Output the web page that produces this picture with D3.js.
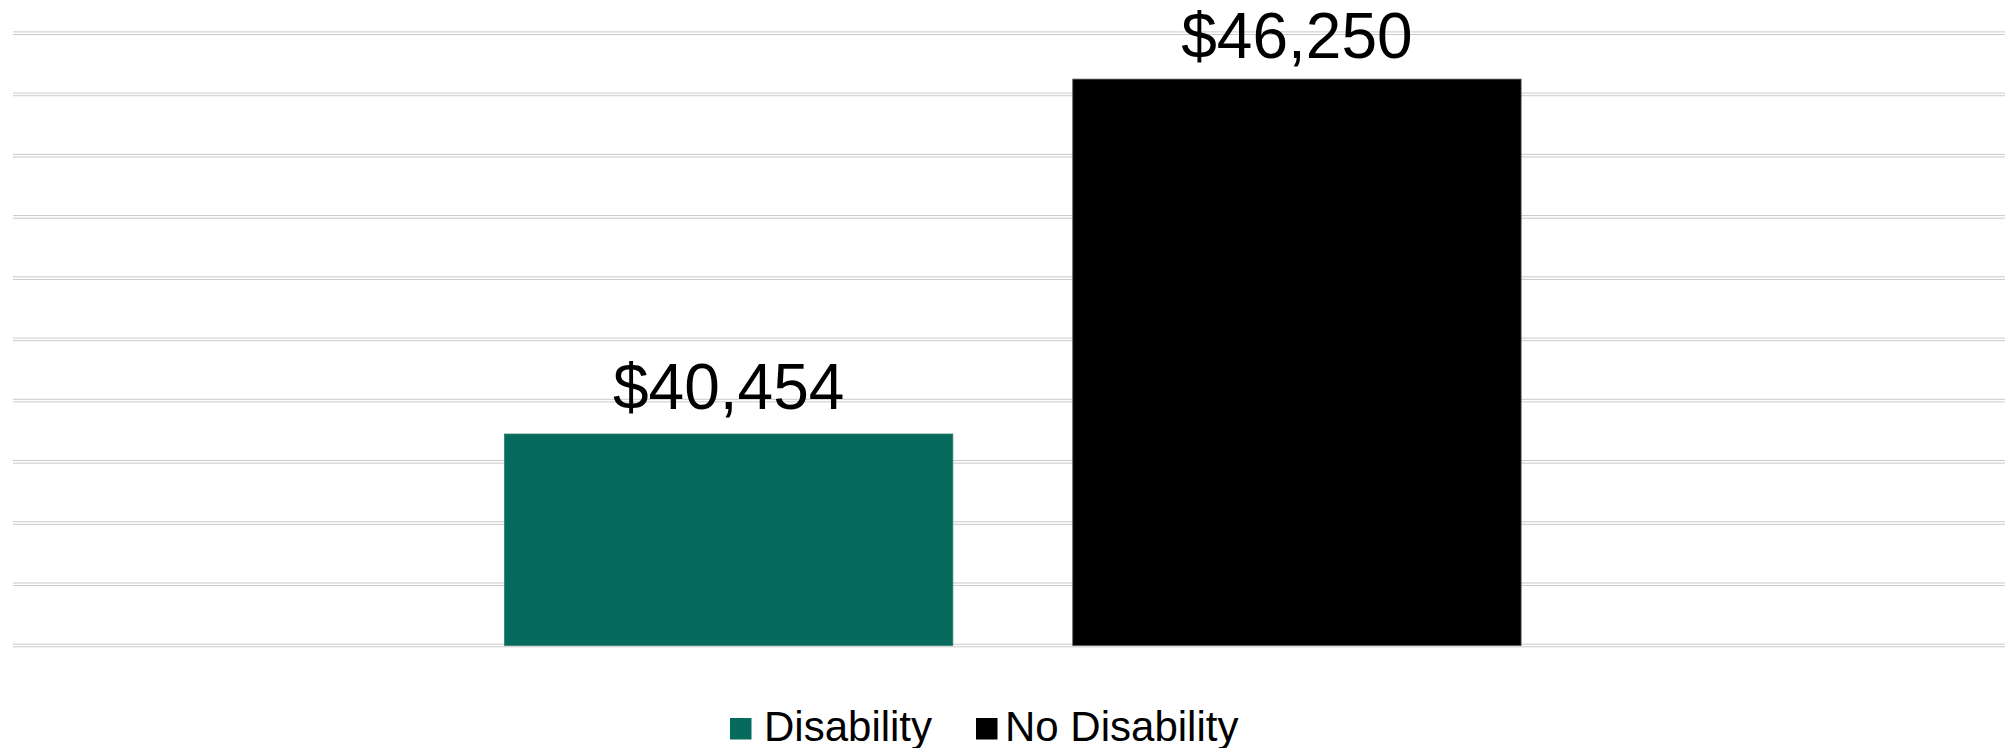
<!DOCTYPE html>
<html>
<head>
<meta charset="utf-8">
<script src="https://cdn.jsdelivr.net/npm/d3@7"></script>
<style>
  html, body { margin: 0; padding: 0; background: #ffffff; }
  svg { display: block; }
  text { font-family: "Liberation Sans", Arial, sans-serif; }
</style>
</head>
<body>
<svg id="chart" width="2005" height="748"></svg>
<script>
// Median earnings by disability status
const series = ["Disability", "No Disability"];
const values = [40454, 46250];
const colors = ["#066b5d", "#000000"];
const yTicks = [37000, 38000, 39000, 40000, 41000, 42000, 43000, 44000, 45000, 46000, 47000];

const W = 2005, H = 748;
const plot = { left: 13, right: 2005, top: 33.2, bottom: 645.5 };

const svg = d3.select("#chart");

const y = d3.scaleLinear()
  .domain([37000, 47000])
  .range([plot.bottom, plot.top]);

// single category group centred in the plot, two series bars inside it
const group = d3.scaleBand()
  .domain(["all"])
  .range([plot.left + 7.6, plot.right])
  .paddingInner(0)
  .paddingOuter(0.4760);

const x = d3.scaleBand()
  .domain(series)
  .range([group("all"), group("all") + group.bandwidth()])
  .paddingInner(0.211)
  .paddingOuter(0);

// horizontal gridlines (drawn as fine double rules)
const grid = svg.append("g");
yTicks.forEach(t => {
  [-1.3, 1.3].forEach(dy => {
    grid.append("line")
      .attr("x1", plot.left).attr("x2", plot.right)
      .attr("y1", y(t) + dy).attr("y2", y(t) + dy)
      .attr("stroke", "#c9c9c9")
      .attr("stroke-width", 1);
  });
});

// bars
svg.append("g").selectAll("rect")
  .data(series)
  .join("rect")
  .attr("x", d => x(d))
  .attr("width", x.bandwidth())
  .attr("y", (d, i) => y(values[i]))
  .attr("height", (d, i) => y(37000) - y(values[i]))
  .attr("fill", (d, i) => colors[i])
  .attr("stroke", (d, i) => i === 0 ? "#2f7f73" : "#555555")
  .attr("stroke-width", 0.8);

// value labels, sitting above each bar but kept inside the svg
const fmt = d3.format("$,");
const labelSize = 64;
const labelAscent = labelSize * 0.91;
svg.append("g").selectAll("text")
  .data(series)
  .join("text")
  .attr("x", d => x(d) + x.bandwidth() / 2)
  .attr("y", (d, i) => Math.max(y(values[i]) - 25, labelAscent))
  .attr("text-anchor", "middle")
  .attr("font-size", labelSize)
  .attr("fill", "#000000")
  .text((d, i) => fmt(values[i]));

// legend
const legend = svg.append("g");
const legendItems = [
  { label: series[0], color: colors[0], sx: 730, tx: 764 },
  { label: series[1], color: colors[1], sx: 976, tx: 1005 }
];
legendItems.forEach(it => {
  legend.append("rect")
    .attr("x", it.sx).attr("y", 718)
    .attr("width", 21.5).attr("height", 21.5)
    .attr("fill", it.color);
  legend.append("text")
    .attr("x", it.tx).attr("y", 740.5)
    .attr("font-size", 42)
    .attr("fill", "#000000")
    .text(it.label);
});
</script>
</body>
</html>
